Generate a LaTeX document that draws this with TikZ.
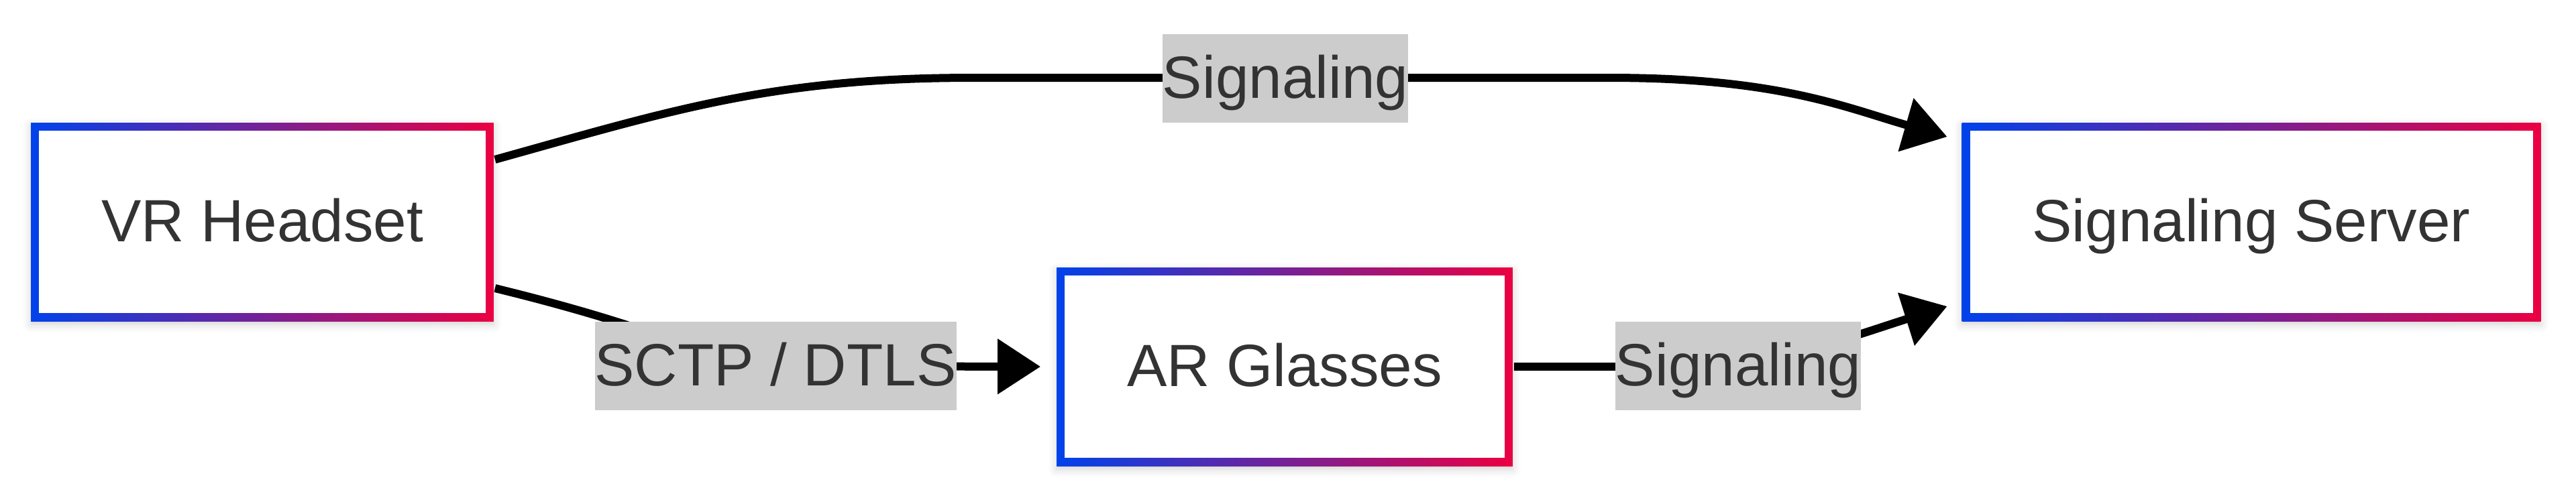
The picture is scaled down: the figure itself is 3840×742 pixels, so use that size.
\documentclass[tikz,border=0pt]{standalone}
\usepackage{fontspec}
\setmainfont{Liberation Sans}
\usetikzlibrary{arrows.meta,calc,shadows.blur}
\definecolor{gblue}{HTML}{0042EB}
\definecolor{gred}{HTML}{EB0042}
\definecolor{txt}{HTML}{333333}
\definecolor{lblbg}{HTML}{CCCCCC}
\tikzset{
  gbox/.style={rectangle, fill=white, minimum height=29.6pt, inner xsep=10.5pt, inner ysep=0pt,
    text height=5.8pt, text depth=0pt, text=txt, font=\fontsize{8.9}{13.35}\selectfont,
    blur shadow={shadow xshift=0pt, shadow yshift=-0.5pt, shadow blur radius=1.2pt, shadow opacity=18},
    path picture={
      \shade[left color=gblue, right color=gred] (path picture bounding box.south west) rectangle (path picture bounding box.north east);
      \fill[white] ([shift={(1.2pt,1.2pt)}]path picture bounding box.south west) rectangle ([shift={(-1.2pt,-1.2pt)}]path picture bounding box.north east);
    }},
  elabel/.style={rectangle, fill=lblbg, inner xsep=0pt, inner ysep=0pt, minimum height=13.2pt,
    text height=5.8pt, text depth=0pt, text=txt, font=\fontsize{8.9}{13.35}\selectfont},
  conn/.style={line width=1.2pt, draw=black, -{Triangle[length=6.4pt,width=8pt]}},
}
\begin{document}
\begin{tikzpicture}[x=0.1pt,y=-0.1pt]
\useasboundingbox (0,0) rectangle (3840,742);
\node[gbox] (vr) at (391,331) {VR Headset};
\node[gbox] (ar) at (1915,547) {AR Glasses};
\node[gbox] (srv) at (3356,331) {Signaling Server};
\draw[conn] ($(vr.east)+(0,-93)$) .. controls (1000,165) and (1150,116) .. (1450,116) -- (2400,116) .. controls (2650,116) and (2750,160) .. ($(srv.west)+(-20,-127)$);
\draw[conn] ($(vr.east)+(0,99)$) .. controls (1040,504) and (1060,546) .. (1156,546) -- ($(ar.west)+(-22,0)$);
\draw[conn] (ar.east) -- (2450,547) .. controls (2650,547) and (2750,505) .. ($(srv.west)+(-20,126)$);
\node[elabel] (l1) at (1916,117) {Signaling};
\node[elabel] (l2) at (1156,546) {SCTP / DTLS};
\node[elabel] (l3) at (2591,546) {Signaling};
\end{tikzpicture}
\end{document}
